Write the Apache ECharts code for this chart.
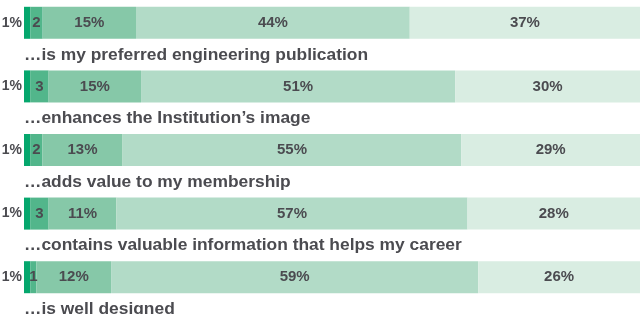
<!DOCTYPE html>
<html>
<head>
<meta charset="utf-8">
<script src="https://cdn.jsdelivr.net/npm/echarts@6/dist/echarts.min.js"></script>
<style>
  html, body { margin: 0; padding: 0; background: #fff; }
  #chart { width: 640px; height: 314px; }
</style>
</head>
<body>
<div id="chart"></div>
<script>
// statements, top to bottom
var categories = [
    '\u2026is my preferred engineering publication',
    '\u2026enhances the Institution\u2019s image',
    '\u2026adds value to my membership',
    '\u2026contains valuable information that helps my career',
    '\u2026is well designed'
];

// answer shares per statement (%), as printed on the bars
var seg1 = [1, 1, 1, 1, 1];
var seg2 = [2, 3, 2, 3, 1];
var seg3 = [15, 15, 13, 11, 12];
var seg4 = [44, 51, 55, 57, 59];
var seg5 = [37, 30, 29, 28, 26];

var segColors = ['#05a76d', '#52b68b', '#86c8a8', '#b2dbc7', '#d9ede2'];
var textColor = '#4b4b50';
var font = 'Liberation Sans, Arial, sans-serif';

var segs = [seg1, seg2, seg3, seg4, seg5];

// row totals, so every bar fills the full width
var totals = categories.map(function(c, i) {
    var s = 0;
    segs.forEach(function(arr) { s += arr[i]; });
    return s;
});

var series = segs.map(function(arr, k) {
    return {
        type: 'bar',
        stack: 'all',
        barWidth: 32,
        itemStyle: { color: segColors[k] },
        data: arr.map(function(v, i) { return v / totals[i] * 100; }),
        label: {
            show: true,
            position: k === 0 ? 'left' : 'inside',
            distance: 2,
            color: textColor,
            fontFamily: font,
            fontWeight: 'bold',
            fontSize: k === 0 ? 14 : 15,
            formatter: function(p) {
                var v = arr[p.dataIndex];
                return k === 1 ? String(v) : v + '%';
            }
        }
    };
});

var chart = echarts.init(document.getElementById('chart'), null, { renderer: 'canvas' });
chart.setOption({
    animation: false,
    grid: { left: 24, right: 0, top: -9, height: 318, containLabel: false, outerBoundsMode: 'none' },
    xAxis: {
        type: 'value',
        min: 0,
        max: 100,
        show: false
    },
    yAxis: {
        type: 'category',
        inverse: true,
        data: categories,
        axisLine: { show: false },
        axisTick: { show: false },
        splitLine: { show: false },
        axisLabel: {
            inside: true,
            interval: 0,
            margin: 0,
            align: 'left',
            verticalAlign: 'middle',
            formatter: function(v) { return '{t|' + v + '}'; },
            rich: {
                t: {
                    padding: [64, 0, 0, 0],
                    color: textColor,
                    fontFamily: font,
                    fontWeight: 'bold',
                    fontSize: 17.4
                }
            }
        },
        z: 10
    },
    series: series
});
</script>
</body>
</html>
